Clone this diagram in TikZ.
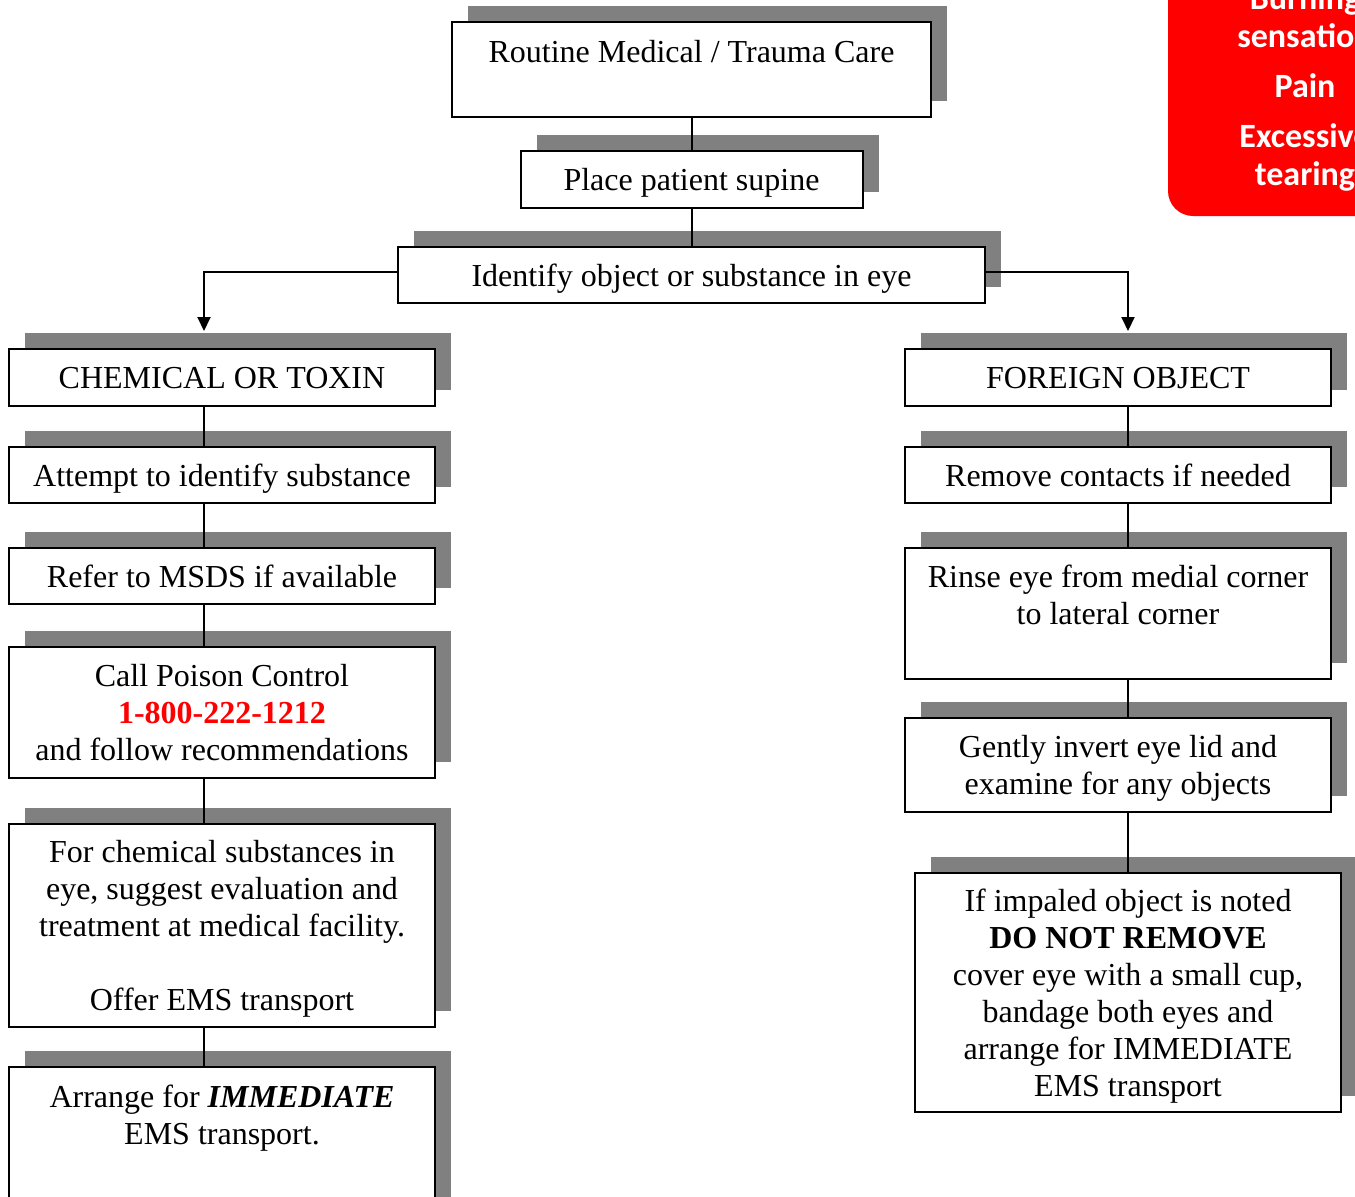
\documentclass[tikz,border=0pt]{standalone}
\usepackage{fontspec}
\setmainfont{Liberation Serif}
\newfontfamily\signfont{Carlito}
\usepackage{tikz}
\usetikzlibrary{arrows.meta,positioning,shadows}
\definecolor{shade}{RGB}{128,128,128}
\definecolor{alert}{RGB}{255,0,0}

\begin{document}
\begin{tikzpicture}[x=1pt, y=-1pt,
    >={Triangle[length=14pt,width=13pt]},
    line width=2pt,
    every node/.append style={align=center, font=\fontsize{32}{37}\selectfont},
    box/.style={draw, fill=white, inner sep=2pt, minimum width=426pt, text depth=0pt,
      drop shadow={shadow xshift=16pt, shadow yshift=16pt, fill=shade, opacity=1}}]
   \clip (0,0) rectangle (1355,1197);

   \node [fill=alert, rounded corners=25pt, minimum width=274pt, minimum height=256pt,
      text=white, font=\signfont\bfseries\fontsize{34}{38}\selectfont] (signs) at (1305,88)
      {Burning\\sensation\\[12pt]Pain\\[12pt]Excessive\\tearing};

   \node [box, minimum width=479pt, minimum height=95pt] (routine) at (691.5,69.5)
      {Routine Medical / Trauma Care\\~};
   \node [box, minimum width=342pt, minimum height=57pt, below=32pt of routine] (supine)
      {Place patient supine};
   \node [box, minimum width=587pt, minimum height=56pt, below=37pt of supine] (identify)
      {Identify object or substance in eye};

   % chemical branch
   \node [box, minimum height=57pt] (chem) at (222,377.5) {CHEMICAL OR TOXIN};
   \node [box, minimum height=56pt, below=39pt of chem] (attempt) {Attempt to identify substance};
   \node [box, minimum height=56pt, below=43pt of attempt] (msds) {Refer to MSDS if available};
   \node [box, minimum height=131pt, below=41pt of msds] (poison)
      {Call Poison Control\\\textcolor{alert}{\textbf{1-800-222-1212}}\\and follow recommendations};
   \node [box, minimum height=203pt, below=44pt of poison] (facility)
      {For chemical substances in\\eye, suggest evaluation and\\treatment at medical facility.\\~\\Offer EMS transport};
   \node [box, minimum height=169pt, below=38pt of facility] (arrange)
      {Arrange for \textbf{\textit{IMMEDIATE}}\\EMS transport.\\~\\~};

   % foreign object branch
   \node [box, minimum height=57pt] (foreign) at (1118,377.5) {FOREIGN OBJECT};
   \node [box, minimum height=56pt, below=39pt of foreign] (contacts) {Remove contacts if needed};
   \node [box, minimum height=131pt, below=43pt of contacts] (rinse)
      {Rinse eye from medial corner\\to lateral corner\\~};
   \node [box, minimum height=94pt, below=37pt of rinse] (invert)
      {Gently invert eye lid and\\examine for any objects};
   \node [box, minimum height=239pt, below=59pt of invert, xshift=10pt] (impaled)
      {If impaled object is noted\\\textbf{DO NOT REMOVE}\\cover eye with a small cup,\\bandage both eyes and\\arrange for IMMEDIATE\\EMS transport};

   \coordinate (lx) at (204,331);
   \coordinate (rx) at (1128,331);

   \draw (routine.south) -- (routine.south |- supine.north)
   (supine.south) -- (supine.south |- identify.north);
   \draw[->] ([yshift=3pt]identify.west) -| (lx);
   \draw[->] ([yshift=3pt]identify.east) -| (rx);

   \draw (chem.south -| lx) -- (attempt.north -| lx)
   (attempt.south -| lx) -- (msds.north -| lx)
   (msds.south -| lx) -- (poison.north -| lx)
   (poison.south -| lx) -- (facility.north -| lx)
   (facility.south -| lx) -- (arrange.north -| lx);

   \draw (foreign.south -| rx) -- (contacts.north -| rx)
   (contacts.south -| rx) -- (rinse.north -| rx)
   (rinse.south -| rx) -- (invert.north -| rx)
   (invert.south -| rx) -- (impaled.north -| rx);
\end{tikzpicture}
\end{document}
